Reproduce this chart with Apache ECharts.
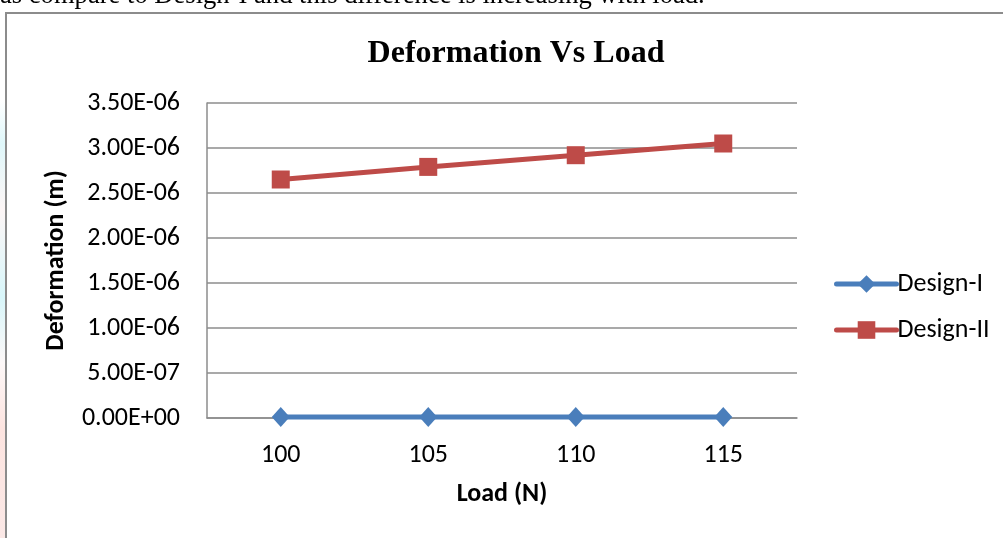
<!DOCTYPE html>
<html><head><meta charset="utf-8">
<script src="https://cdn.jsdelivr.net/npm/echarts@6/dist/echarts.min.js"></script>
<style>
html,body{margin:0;padding:0;background:#fff;overflow:hidden;}
#c{width:1003px;height:538px;position:relative;}
#edge{position:absolute;left:0;top:100px;width:5px;height:438px;
  background:linear-gradient(to bottom,#fff 0%,#dff7fa 10%,#fdf6f6 25%,#d8f6fa 45%,#fdf8f8 60%,#fde4e0 75%,#fbe8e6 100%);}
</style></head>
<body><div id="c"></div><div id="edge"></div>
<script>
const categories = ['100','105','110','115'];
const designI = [1.0e-8, 1.0e-8, 1.0e-8, 1.0e-8];
const designII = [2.65e-6, 2.79e-6, 2.92e-6, 3.05e-6];
const seriesNames = ['Design-I','Design-II'];

function sci(v){
  if (v === 0) return '0.00E+00';
  let e = Math.floor(Math.log10(Math.abs(v)) + 1e-9);
  let m = v / Math.pow(10, e);
  if (Math.round(m*100)/100 >= 10) { m /= 10; e += 1; }
  const sign = e < 0 ? '-' : '+';
  const ae = Math.abs(e);
  return m.toFixed(2) + 'E' + sign + (ae < 10 ? '0' + ae : '' + ae);
}

const chart = echarts.init(document.getElementById('c'));
const labelFont = "Carlito, 'Open Sans', 'Liberation Sans', sans-serif";
chart.setOption({
  animation: false,
  graphic: [
    {type:'rect', shape:{x:6, y:13, width:1010, height:540}, style:{fill:'none', stroke:'#8c8c8c', lineWidth:2}},
    {type:'text', left:0, top:-17, style:{text:'as compare to Design-I and this difference is increasing with load.', font:"26.6px 'Liberation Serif', serif", fill:'#000'}}
  ],
  title: {
    text: 'Deformation Vs Load',
    left: 511, top: 33, textAlign: 'center',
    textStyle: {fontFamily: "'Liberation Serif', serif", fontSize: 32, fontWeight: 'bold', color: '#000'}
  },
  grid: {left: 207, top: 103, width: 590, height: 315, containLabel: false},
  legend: {
    orient: 'vertical', left: 829, top: 266, itemGap: 20,
    itemWidth: 60, itemHeight: 22,
    lineStyle: {width: 5, cap: 'round'},
    textStyle: {fontFamily: labelFont, fontSize: 26, color: '#000', padding:[0,0,0,-4]},
    data: seriesNames
  },
  xAxis: {
    type: 'category', data: categories, boundaryGap: true,
    name: 'Load (N)', nameLocation: 'middle', nameGap: 63,
    nameTextStyle: {fontFamily: labelFont, fontSize: 26, fontWeight: 'bold', color: '#000'},
    axisLine: {lineStyle: {color: '#8c8c8c', width: 1.5}},
    axisTick: {show: false},
    axisLabel: {fontFamily: labelFont, fontSize: 26, color: '#000', margin: 24}
  },
  yAxis: {
    type: 'value', min: 0, max: 3.5e-6, interval: 5e-7,
    name: 'Deformation (m)', nameLocation: 'middle', nameGap: 138,
    nameTextStyle: {fontFamily: labelFont, fontSize: 26, fontWeight: 'bold', color: '#000'},
    axisLine: {show: true, lineStyle: {color: '#8c8c8c', width: 1.5}},
    axisTick: {show: false},
    splitLine: {lineStyle: {color: '#8c8c8c', width: 1.5}},
    axisLabel: {fontFamily: labelFont, fontSize: 26, color: '#000', margin: 27, formatter: sci}
  },
  series: [
    {name: seriesNames[0], type: 'line', data: designI, symbol: 'diamond', symbolSize: [18,20],
     lineStyle: {color: '#4a7ebb', width: 5}, itemStyle: {color: '#4a7ebb'}},
    {name: seriesNames[1], type: 'line', data: designII, symbol: 'rect', symbolSize: 18,
     lineStyle: {color: '#be4b48', width: 5}, itemStyle: {color: '#be4b48'}}
  ]
});
</script>
</body></html>
